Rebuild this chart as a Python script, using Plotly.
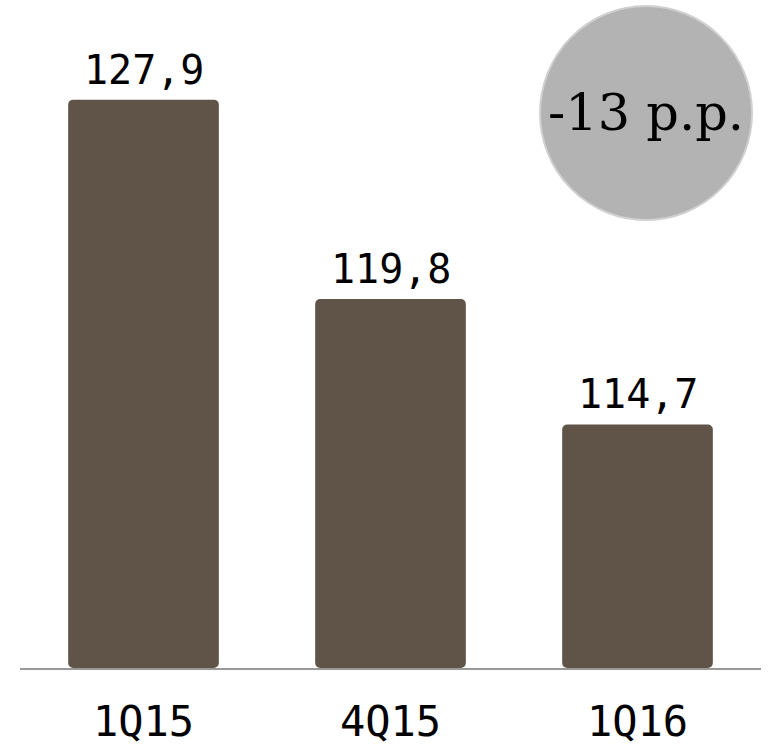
import plotly.graph_objects as go

categories = ["1Q15", "4Q15", "1Q16"]
values = [127.9, 119.8, 114.7]
value_labels = ["127,9", "119,8", "114,7"]
badge_text = "-13 p.p."
axis_floor = 104.8

fig = go.Figure()
fig.add_trace(go.Bar(
    x=categories, y=[v - axis_floor for v in values], base=axis_floor,
    marker=dict(color="#605448", cornerradius=5, line=dict(width=0)),
    width=0.61, hoverinfo="skip",
))

for c, v, t in zip(categories, values, value_labels):
    fig.add_annotation(x=c, y=v, text=t, showarrow=False, yanchor="bottom", yshift=5,
                       font=dict(family="DejaVu Sans Mono", size=40, color="#000"))

fig.add_shape(type="circle", xref="paper", yref="paper",
              x0=0.7018, x1=0.9879, y0=0.6707, y1=0.991,
              fillcolor="#b3b3b3", line=dict(color="#d0d0d0", width=2), layer="above")
fig.add_annotation(xref="paper", yref="paper", x=0.8448, y=0.831, text=badge_text,
                   xanchor="center", yanchor="middle",
                   showarrow=False, font=dict(family="DejaVu Serif", size=51, color="#000"))

fig.update_layout(
    width=769, height=747, margin=dict(l=20, r=8, t=0, b=79),
    plot_bgcolor="white", paper_bgcolor="white", showlegend=False,
)
fig.update_xaxes(showline=True, linecolor="#999999", linewidth=2, showgrid=False,
                 ticks="", ticklabelstandoff=16, automargin=False,
                 tickfont=dict(family="DejaVu Sans Mono", size=42, color="#000"))
fig.update_yaxes(range=[axis_floor, 131.95], visible=False, showgrid=False, automargin=False)
fig.write_html("out.html", config={"displayModeBar": False},
               post_script="document.body.style.margin='0px';")
